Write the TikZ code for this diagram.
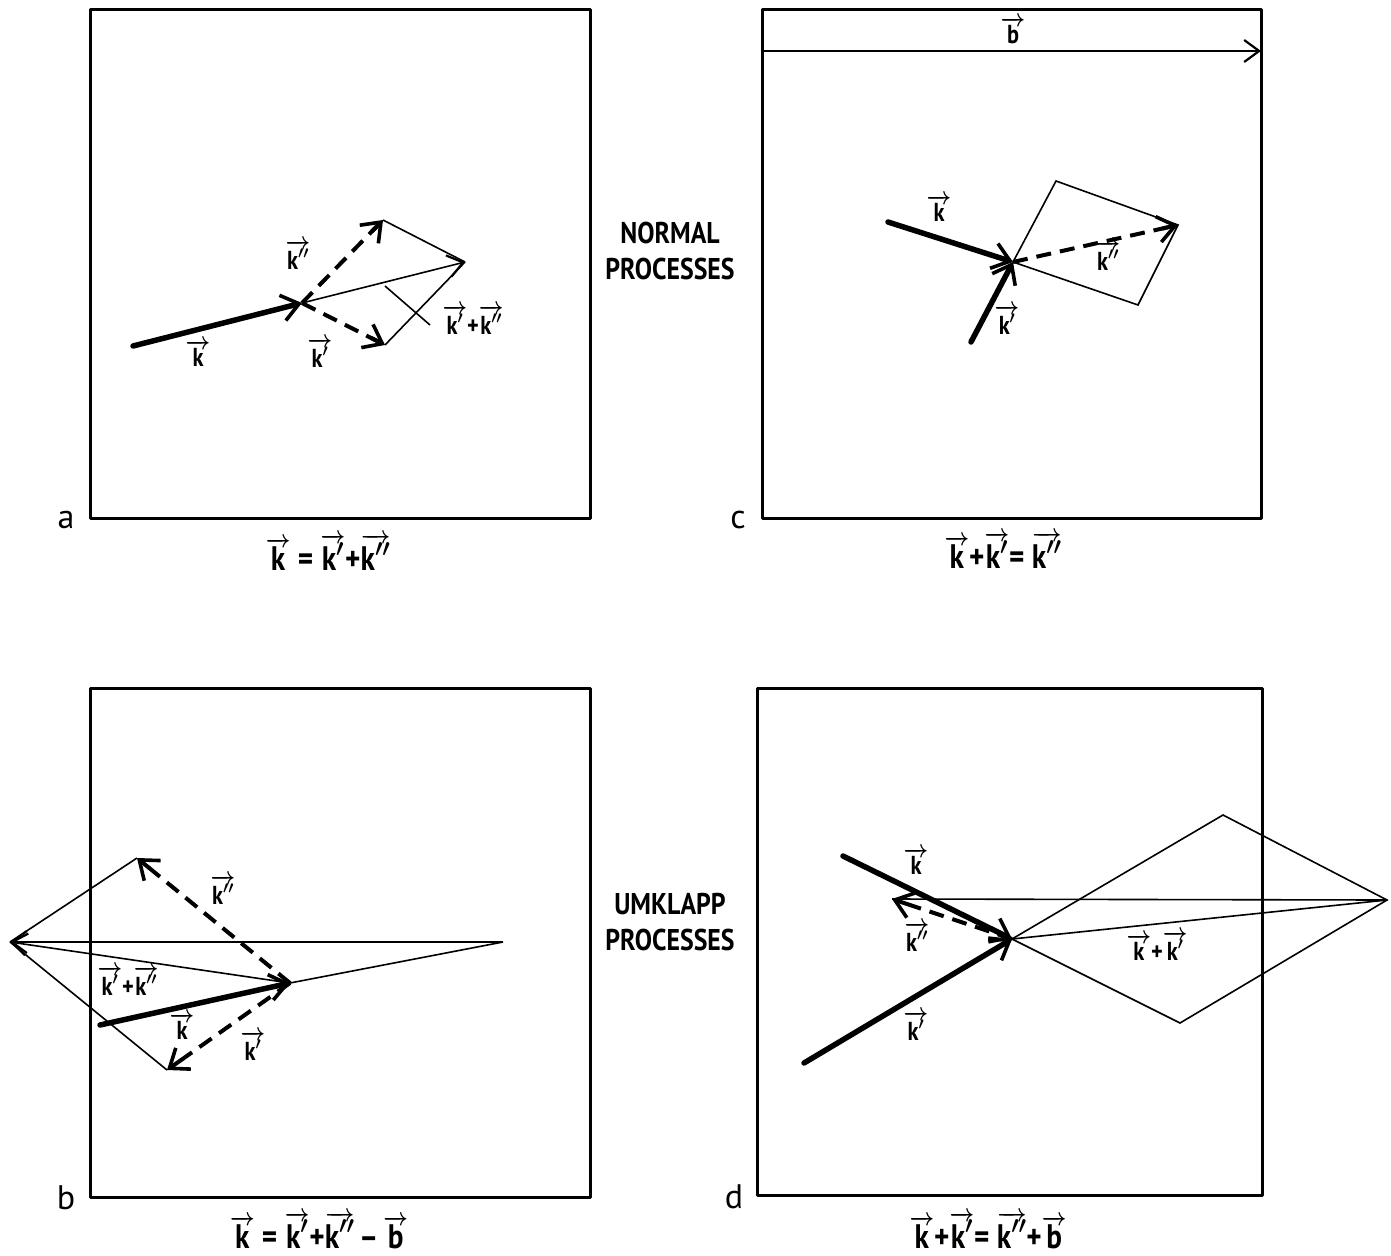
\documentclass[tikz,border=0pt]{standalone}
\usepackage{fontspec}
\usepackage{graphicx}
\setmainfont{PT Sans}
\usetikzlibrary{arrows.meta,calc}
\newcommand\vk[1]{\ensuremath{\overrightarrow{\mbox{#1}}}}
\newcommand\vkp{\ensuremath{\overrightarrow{\mbox{k}'}}}
\newcommand\vkpp{\ensuremath{\overrightarrow{\mbox{k}''}}}
\newcommand\nar[1]{\scalebox{0.86}[1]{#1}}
\newcommand\dvec[2]{\draw[dashvec] (#1) -- (#2); \draw[dashtip] ($(#2)!16pt!(#1)$) -- (#2);}
\tikzset{
  tipv/.tip={Straight Barb[length=17pt,width=26pt,line width=3.6pt]},
  tipt/.tip={Straight Barb[length=15pt,width=22pt,line width=2.2pt]},
  frame/.style={line width=3pt,line join=round},
  thinline/.style={line width=1.6pt},
  thinvec/.style={line width=1.6pt,-tipt},
  thickvec/.style={line width=5.5pt,-tipv,line cap=round},
  dashvec/.style={line width=4pt,dash pattern=on 15pt off 9pt,shorten >=6pt},
  dashtip/.style={line width=4pt,-tipv},
  lab/.style={font=\fontsize{26}{28}\selectfont\bfseries\boldmath,inner sep=0pt},
  captxt/.style={font=\fontsize{34}{36}\selectfont\bfseries\boldmath,inner sep=1pt},
  title/.style={font=\fontsize{30}{36}\selectfont\bfseries,align=center,inner sep=0pt},
  letter/.style={font=\fontsize{34}{36}\selectfont,inner sep=0pt}
}
\begin{document}
\begin{tikzpicture}[x=1pt,y=-1pt]
\useasboundingbox (0,0) rectangle (1391,1255);
% ---------- panel a ----------
\draw[frame] (90,10) rectangle (590,518);
\node[letter] (la) at (66,520) {a};
\coordinate (a0) at (133,346);
\coordinate (aC) at (302,303);
\coordinate (aT) at (383,220);
\coordinate (aB) at (385,345);
\coordinate (aR) at (465,262);
\coordinate (aL1) at (385,286);
\coordinate (aL2) at (430,325);
\draw[thinline] (aT) -- (aR);
\draw[thinline] (aB) -- (aR);
\draw[thinvec] (aC) -- (aR);
\draw[thinline] (aL1) -- (aL2);
\draw[thickvec] (a0) -- (aC);
\dvec{aC}{aT}
\dvec{aC}{aB}
\node[lab] (ak2) at (298,255) {\nar{\vkpp}};
\node[lab] (ak) at (198,353) {\nar{\vk{k}}};
\node[lab] (ak1) at (320,353) {\nar{\vkp}};
\node[lab] (aks) at (473,320) {\nar{\vkp+\vkpp}};
\node[captxt] (capa) at (328,552) {\nar{\vk{k} = \vkp+\vkpp}};
% ---------- panel c ----------
\draw[frame] (762,10) rectangle (1261,518);
\node[letter] (lc) at (738,520) {c};
\coordinate (bL) at (762,51);
\coordinate (bR) at (1261,51);
\draw[line width=2.2pt,-tipt] (bL) -- (bR);
\node[lab] (cb) at (1013,30) {\nar{\vk{b}}};
\coordinate (c0) at (888,222);
\coordinate (c1) at (971,342);
\coordinate (cC) at (1013,262);
\coordinate (cT) at (1056,181);
\coordinate (cR) at (1178,225);
\coordinate (cB) at (1138,305);
\draw[thinline] (cC) -- (cT) -- (cR) -- (cB) -- (cC);
\draw[thickvec] (c0) -- (cC);
\draw[thickvec] (c1) -- (cC);
\dvec{cC}{cR}
\node[lab] (ck) at (939,208) {\nar{\vk{k}}};
\node[lab] (ck2) at (1108,256) {\nar{\vkpp}};
\node[lab] (ck1) at (1007,320) {\nar{\vkp}};
\node[captxt] (capc) at (1003,550) {\nar{\vk{k}+\vkp = \vkpp}};
% ---------- middle titles ----------
\node[title] (tn) at (670,251) {\nar{NORMAL}\\\nar{PROCESSES}};
\node[title] (tu) at (670,922) {\nar{UMKLAPP}\\\nar{PROCESSES}};
% ---------- panel b ----------
\draw[frame] (90,688) rectangle (590,1197);
\node[letter] (lb) at (66,1198) {b};
\coordinate (bbL) at (10,942);
\coordinate (bbT) at (137,858);
\coordinate (bbB) at (167,1070);
\coordinate (bbC) at (290,983);
\coordinate (bbR) at (503,942);
\coordinate (bb0) at (100,1025);
\draw[thinline] (bbL) -- (bbT);
\draw[thinline] (bbL) -- (bbB);
\draw[thinline] (bbC) -- (bbR);
\draw[thinvec] (bbR) -- (bbL);
\draw[thinvec] (bbC) -- (bbL);
\draw[thickvec] (bb0) -- (bbC);
\dvec{bbC}{bbT}
\dvec{bbC}{bbB}
\node[lab] (bk2) at (223,890) {\nar{\vkpp}};
\node[lab] (bks) at (128,981) {\nar{\vkp+\vkpp}};
\node[lab] (bk) at (182,1026) {\nar{\vk{k}}};
\node[lab] (bk1) at (253,1046) {\nar{\vkp}};
\node[captxt] (capb) at (319,1230) {\nar{\vk{k} = \vkp+\vkpp\,--\,\vk{b}}};
% ---------- panel d ----------
\draw[frame] (757,688) rectangle (1262,1195);
\node[letter] (ld) at (734,1197) {d};
\coordinate (dC) at (1012,939);
\coordinate (d0) at (843,856);
\coordinate (d1) at (804,1063);
\coordinate (dT) at (1223,815);
\coordinate (dR) at (1387,900);
\coordinate (dB) at (1180,1023);
\coordinate (dH) at (892,899);
\draw[thinline] (dC) -- (dT) -- (dR) -- (dB) -- (dC);
\draw[thinline] (dC) -- (dR);
\draw[thinline] (dH) -- (dR);
\draw[thickvec] (d0) -- (dC);
\draw[thickvec] (d1) -- (dC);
\dvec{dC}{dH}
\node[lab] (dk) at (916,861) {\nar{\vk{k}}};
\node[lab] (dk2) at (917,937) {\nar{\vkpp}};
\node[lab] (dk1) at (916,1026) {\nar{\vkp}};
\node[lab] (dks) at (1157,946) {\nar{\vk{k}+\vkp}};
\node[captxt] (capd) at (988,1230) {\nar{\vk{k}+\vkp = \vkpp+\vk{b}}};
\end{tikzpicture}
\end{document}
